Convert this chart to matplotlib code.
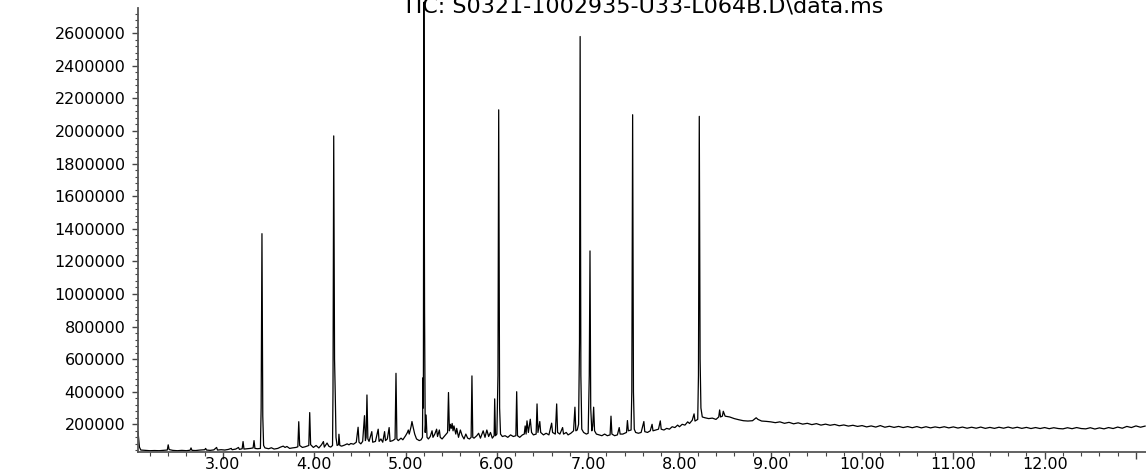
import numpy as np
import matplotlib.pyplot as plt
from matplotlib.ticker import MultipleLocator, FixedLocator

# retention time (min) and total ion current
rt = [
    2.070, 2.075, 2.085, 2.10, 2.15, 2.20, 2.25, 2.30, 2.35, 2.39, 2.40, 2.41,
    2.45, 2.50, 2.55, 2.60, 2.64, 2.65, 2.66, 2.70, 2.75, 2.80, 2.81, 2.82,
    2.86, 2.90, 2.93, 2.94, 2.98, 3.02, 3.06, 3.09, 3.10, 3.14, 3.17, 3.18,
    3.21, 3.22, 3.23, 3.27, 3.30, 3.33, 3.34, 3.35, 3.38, 3.41, 3.418, 3.427,
    3.436, 3.445, 3.46, 3.50, 3.53, 3.56, 3.60, 3.63, 3.66, 3.68, 3.70, 3.73,
    3.76, 3.80, 3.82, 3.83, 3.84, 3.87, 3.90, 3.94, 3.95, 3.96, 3.99, 4.02,
    4.05, 4.08, 4.10, 4.11, 4.14, 4.16, 4.18, 4.20, 4.205, 4.213, 4.222, 4.23,
    4.238, 4.25, 4.265, 4.27, 4.28, 4.30, 4.33, 4.36, 4.38, 4.40, 4.43, 4.46,
    4.48, 4.49, 4.51, 4.53, 4.55, 4.56, 4.568, 4.577, 4.587, 4.60, 4.63, 4.64,
    4.67, 4.70, 4.71, 4.73, 4.75, 4.77, 4.78, 4.80, 4.82, 4.83, 4.86, 4.885,
    4.895, 4.905, 4.92, 4.95, 4.97, 5.00, 5.02, 5.03, 5.04, 5.06, 5.07, 5.08,
    5.10, 5.12, 5.15, 5.17, 5.185, 5.19, 5.195, 5.200, 5.208, 5.215, 5.225, 5.235,
    5.25, 5.27, 5.29, 5.30, 5.32, 5.34, 5.35, 5.37, 5.38, 5.40, 5.43, 5.46,
    5.47, 5.48, 5.49, 5.50, 5.51, 5.52, 5.53, 5.55, 5.56, 5.58, 5.60, 5.62,
    5.64, 5.66, 5.68, 5.70, 5.718, 5.727, 5.736, 5.75, 5.78, 5.80, 5.82, 5.85,
    5.87, 5.89, 5.91, 5.93, 5.95, 5.97, 5.976, 5.985, 6.00, 6.012, 6.02, 6.03,
    6.04, 6.06, 6.09, 6.12, 6.15, 6.18, 6.208, 6.217, 6.226, 6.25, 6.28, 6.30,
    6.31, 6.32, 6.33, 6.345, 6.366, 6.38, 6.40, 6.43, 6.44, 6.45, 6.47, 6.48,
    6.51, 6.54, 6.57, 6.60, 6.61, 6.64, 6.655, 6.665, 6.69, 6.72, 6.73, 6.76,
    6.78, 6.81, 6.84, 6.855, 6.865, 6.88, 6.895, 6.905, 6.912, 6.92, 6.93, 6.95,
    6.98, 7.00, 7.012, 7.02, 7.028, 7.04, 7.05, 7.06, 7.07, 7.09, 7.12, 7.15,
    7.18, 7.21, 7.24, 7.25, 7.26, 7.29, 7.32, 7.34, 7.35, 7.38, 7.40, 7.42,
    7.43, 7.44, 7.47, 7.478, 7.487, 7.496, 7.505, 7.52, 7.55, 7.58, 7.61, 7.62,
    7.65, 7.68, 7.70, 7.71, 7.74, 7.77, 7.79, 7.80, 7.83, 7.86, 7.89, 7.92,
    7.95, 7.98, 8.00, 8.03, 8.06, 8.09, 8.11, 8.14, 8.16, 8.17, 8.20, 8.208,
    8.217, 8.226, 8.235, 8.25, 8.28, 8.32, 8.36, 8.40, 8.43, 8.44, 8.45, 8.47,
    8.48, 8.50, 8.55, 8.60, 8.65, 8.70, 8.75, 8.80, 8.84, 8.86, 8.90, 8.95,
    9.00, 9.05, 9.10, 9.15, 9.20, 9.25, 9.30, 9.35, 9.40, 9.45, 9.50, 9.55,
    9.60, 9.65, 9.70, 9.75, 9.80, 9.85, 9.90, 9.95, 10.00, 10.05, 10.10, 10.15,
    10.20, 10.25, 10.30, 10.35, 10.40, 10.45, 10.50, 10.55, 10.60, 10.65, 10.70, 10.75,
    10.80, 10.85, 10.90, 10.95, 11.00, 11.05, 11.10, 11.15, 11.20, 11.25, 11.30, 11.35,
    11.40, 11.45, 11.50, 11.55, 11.60, 11.65, 11.70, 11.75, 11.80, 11.85, 11.90, 11.95,
    12.00, 12.05, 12.10, 12.15, 12.20, 12.25, 12.30, 12.35, 12.40, 12.45, 12.50, 12.55,
    12.60, 12.65, 12.70, 12.75, 12.80, 12.85, 12.90, 12.95, 13.00, 13.05, 13.10,
]

tic = [
    150000, 120000, 60000, 42000, 40000, 38000, 39000, 38000, 40000, 42000, 74000, 45000,
    40000, 38000, 40000, 38000, 41000, 55000, 40000, 39000, 42000, 44000, 52000, 42000,
    40000, 43000, 58000, 42000, 44000, 42000, 46000, 52000, 44000, 48000, 58000, 46000,
    50000, 94000, 48000, 50000, 52000, 55000, 100000, 52000, 50000, 52000, 300000, 1370000,
    250000, 70000, 55000, 50000, 56000, 48000, 52000, 60000, 66000, 58000, 64000, 52000,
    55000, 58000, 62000, 216000, 70000, 58000, 62000, 70000, 272000, 75000, 58000, 70000,
    55000, 75000, 94000, 60000, 85000, 65000, 60000, 70000, 400000, 1970000, 600000, 380000,
    120000, 70000, 75000, 139000, 70000, 66000, 72000, 80000, 74000, 82000, 78000, 90000,
    182000, 90000, 80000, 95000, 253000, 100000, 120000, 380000, 110000, 95000, 155000, 90000,
    95000, 170000, 95000, 110000, 90000, 155000, 100000, 110000, 180000, 95000, 100000, 110000,
    513000, 110000, 100000, 115000, 105000, 130000, 150000, 165000, 140000, 185000, 217000, 190000,
    140000, 110000, 100000, 105000, 120000, 485000, 300000, 2790000, 900000, 150000, 257000, 120000,
    110000, 125000, 160000, 120000, 140000, 170000, 125000, 165000, 120000, 110000, 130000, 150000,
    395000, 160000, 200000, 175000, 205000, 160000, 190000, 140000, 175000, 120000, 165000, 130000,
    110000, 140000, 115000, 110000, 120000, 497000, 120000, 115000, 130000, 145000, 115000, 160000,
    120000, 165000, 125000, 150000, 115000, 130000, 356000, 130000, 140000, 500000, 2130000, 300000,
    140000, 125000, 130000, 120000, 135000, 125000, 130000, 400000, 130000, 120000, 135000, 140000,
    190000, 140000, 221000, 150000, 231000, 150000, 135000, 140000, 325000, 150000, 217000, 150000,
    135000, 145000, 135000, 207000, 150000, 140000, 325000, 150000, 140000, 180000, 140000, 150000,
    135000, 145000, 160000, 305000, 160000, 165000, 200000, 700000, 2580000, 500000, 170000, 150000,
    140000, 145000, 500000, 1264000, 300000, 160000, 190000, 305000, 160000, 140000, 135000, 130000,
    140000, 130000, 135000, 250000, 140000, 130000, 135000, 180000, 140000, 140000, 145000, 150000,
    223000, 160000, 165000, 400000, 2100000, 400000, 170000, 150000, 145000, 150000, 217000, 155000,
    150000, 160000, 200000, 160000, 165000, 170000, 221000, 170000, 165000, 175000, 170000, 185000,
    180000, 195000, 185000, 200000, 195000, 215000, 205000, 225000, 264000, 220000, 230000, 500000,
    2090000, 600000, 300000, 245000, 240000, 235000, 238000, 230000, 245000, 288000, 245000, 250000,
    280000, 250000, 245000, 235000, 228000, 222000, 220000, 222000, 240000, 230000, 220000, 218000,
    215000, 210000, 215000, 206000, 212000, 203000, 209000, 201000, 206000, 198000, 204000, 195000,
    201000, 194000, 199000, 191000, 196000, 189000, 194000, 187000, 192000, 184000, 190000, 183000,
    192000, 182000, 188000, 181000, 187000, 180000, 186000, 179000, 186000, 178000, 185000, 178000,
    184000, 179000, 185000, 178000, 184000, 177000, 183000, 176000, 182000, 176000, 183000, 175000,
    181000, 175000, 182000, 176000, 183000, 176000, 182000, 175000, 181000, 174000, 180000, 174000,
    180000, 173000, 179000, 174000, 172000, 179000, 173000, 180000, 174000, 172000, 179000, 171000,
    178000, 172000, 180000, 174000, 183000, 176000, 187000, 180000, 190000, 182000, 189000,
]

x_major = [3, 4, 5, 6, 7, 8, 9, 10, 11, 12, 13]
x_labels = ["3.00", "4.00", "5.00", "6.00", "7.00", "8.00", "9.00",
            "10.00", "11.00", "12.00", ""]
y_major = [200000, 400000, 600000, 800000, 1000000, 1200000, 1400000,
           1600000, 1800000, 2000000, 2200000, 2400000, 2600000]

title = "TIC: S0321-1002935-U33-L064B.D\\data.ms"

fig = plt.figure(figsize=(11.46, 4.73), dpi=100)
ax = fig.add_axes([0.1204, 0.0444, 0.8796, 0.9387])

ax.plot(rt, tic, color="black", lw=0.9, clip_on=False)

ax.set_xlim(2.069, 13.11)
ax.set_ylim(30000, 2755000)

ax.xaxis.set_major_locator(FixedLocator(x_major))
ax.set_xticklabels(x_labels)
ax.xaxis.set_minor_locator(MultipleLocator(0.2))
ax.yaxis.set_major_locator(FixedLocator(y_major))
ax.set_yticklabels([str(v) for v in y_major])
ax.yaxis.set_minor_locator(MultipleLocator(40000))

for s in ["top", "right"]:
    ax.spines[s].set_visible(False)
for s in ["left", "bottom"]:
    ax.spines[s].set_color("#555555")
    ax.spines[s].set_linewidth(1.3)

ax.tick_params(axis="both", which="major", labelsize=11.5, colors="#444444",
               labelcolor="black", width=1.0)
ax.tick_params(axis="x", which="major", length=5, pad=-1.5)
ax.tick_params(axis="x", which="minor", length=3, width=0.8, colors="#444444")
ax.tick_params(axis="y", which="major", length=4, pad=5)
ax.tick_params(axis="y", which="minor", length=2, width=0.8, colors="#444444")

fig.text(0.5605, 1 - 12 / 473, title, ha="center", va="baseline", fontsize=16)

fig.savefig("out.png", dpi=100)
